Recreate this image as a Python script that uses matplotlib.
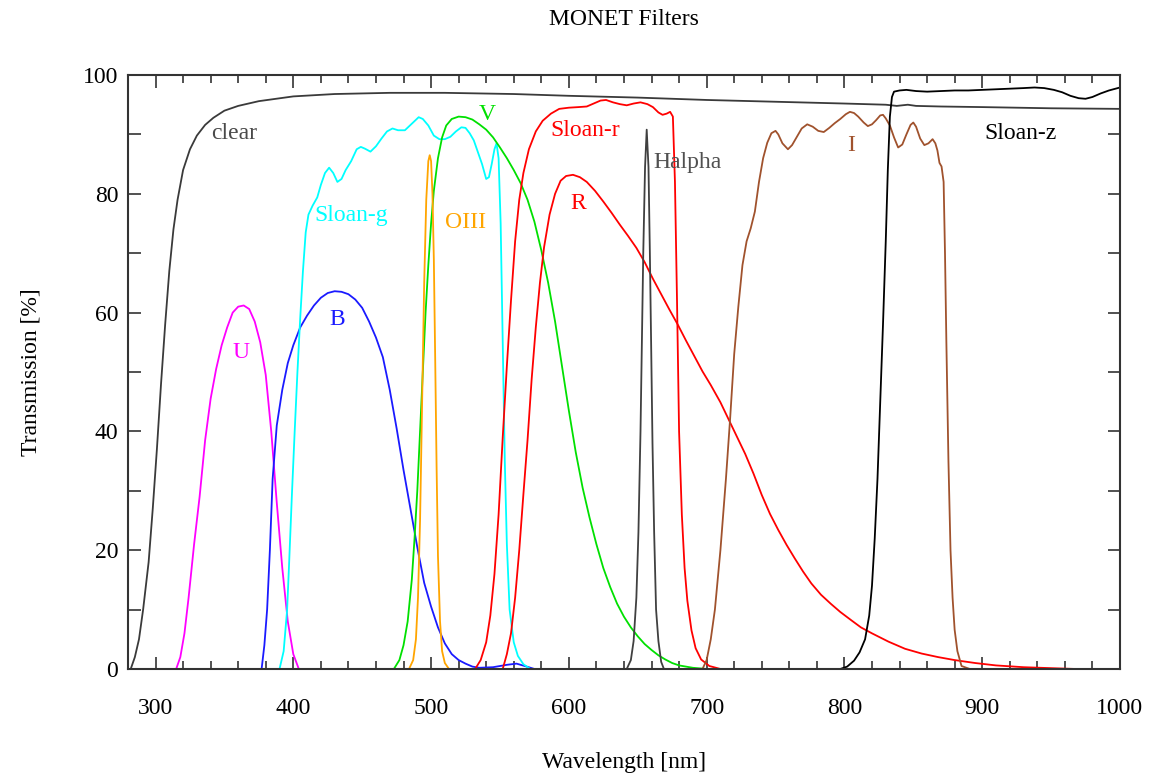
import numpy as np
import matplotlib.pyplot as plt
from matplotlib.ticker import MultipleLocator

plt.rcParams['font.family'] = ['Liberation Serif', 'DejaVu Serif']

# transmission curves (wavelength nm, transmission %)
clear_wl = [282, 285, 288, 291, 295, 298, 301, 304, 307, 310, 313, 316, 320, 325, 330, 336, 342, 350, 360, 375, 400,
            430, 470, 510, 560, 600, 650, 700, 750, 800, 830, 838, 846, 852, 870, 900, 950, 1000]
clear_t = [0, 2, 5, 10, 18, 27, 37, 48, 58, 67, 74, 79, 84, 87.5, 89.8, 91.6, 92.8, 94, 94.8, 95.6, 96.4,
           96.8, 97.0, 97.0, 96.8, 96.5, 96.2, 95.8, 95.5, 95.2, 95.0, 94.8, 95.0, 94.8, 94.7, 94.6, 94.4, 94.3]

u_wl = [315, 318, 321, 324, 328, 332, 336, 340, 344, 348, 352, 356, 360, 364, 368, 372, 376, 380, 384, 388, 392, 396, 400, 404]
u_t = [0, 2, 6, 12, 21, 29, 38.5, 45.5, 50.5, 54.5, 57.5, 60, 61, 61.2, 60.6, 58.5, 55, 49.5, 40, 28, 17, 8, 2.5, 0]

b_wl = [377, 379, 381, 383, 385, 388, 392, 396, 400, 405, 410, 415, 420, 425, 430, 435, 440, 445, 450, 455, 460,
        465, 470, 475, 480, 485, 490, 495, 500, 505, 510, 515, 520, 525, 530, 535, 545, 555, 562, 568, 575]
b_t = [0, 4, 10, 20, 32, 41, 47, 51.5, 54.5, 57.5, 59.5, 61.2, 62.5, 63.3, 63.6, 63.5, 63.1, 62.2, 60.8, 58.5, 55.8,
       52.5, 47, 40.5, 33.5, 27, 20.5, 14.5, 10.5, 7, 4.3, 2.5, 1.5, 0.9, 0.4, 0.2, 0.3, 0.7, 0.9, 0.5, 0]

g_wl = [390, 393, 395.5, 397, 399, 401, 403, 405, 407, 409, 411, 414, 417.4, 420, 423, 426, 429, 432, 435, 438,
        442, 446, 449, 452, 456, 460, 464, 468, 472, 476, 481, 486, 491, 494, 498, 502, 506, 510, 514, 518,
        522, 525, 528, 531, 534, 537, 540, 542, 544, 546, 547.5, 549, 550.5, 552, 553.5, 555, 557, 560, 563, 567, 572]
g_t = [0, 3, 9.9, 18, 29.4, 40, 50, 59, 67, 73.5, 76.5, 78, 79.4, 81.5, 83.5, 84.4, 83.5, 82, 82.5, 84,
       85.5, 87.5, 87.9, 87.6, 87.1, 88, 89.3, 90.5, 91, 90.7, 90.7, 91.8, 92.9, 92.6, 91.5, 89.8, 89.2, 89.2, 89.6, 90.5,
       91.2, 91.1, 90.2, 89, 87, 85, 82.5, 82.8, 85, 87.5, 88.5, 86, 75, 55, 35, 21, 10, 4.5, 2.2, 0.8, 0]

v_wl = [473, 477, 480, 483, 486, 488, 490, 492, 494, 496, 498, 500, 502, 505, 508, 511, 515, 520, 525, 530,
        535, 540, 545, 550, 555, 560, 565, 570, 575, 580, 585, 590, 595, 600, 605, 610, 615, 620, 625, 630,
        635, 640, 645, 650, 655, 660, 665, 670, 675, 680, 690, 700]
v_t = [0, 1.5, 4, 8, 15, 22, 30, 40, 50, 60, 68, 75, 80.5, 86, 89.5, 91.5, 92.6, 93, 92.9, 92.5,
       91.7, 90.8, 89.5, 87.8, 86, 84, 81.8, 79, 75.3, 70.5, 65, 58.5, 51, 43.5, 36.5, 30.5, 25.5, 21, 17, 13.8,
       11, 8.8, 7, 5.5, 4.2, 3.2, 2.3, 1.6, 1.0, 0.6, 0.2, 0]

o3_wl = [484, 487, 489, 490.5, 492, 493.5, 495, 496.5, 498, 499, 500, 501, 502, 503, 504, 505, 506.5, 508, 510, 513]
o3_t = [0, 1.5, 5, 12, 25, 45, 65, 79, 85.5, 86.5, 85.5, 80, 69, 52, 34, 19, 8, 3, 1, 0]

r_sl_wl = [532, 536, 540, 543, 546, 549, 552, 555, 558, 561, 564, 567, 571, 576, 581, 587, 593, 600, 607, 613,
           618, 623, 627, 632, 637, 642, 647, 652, 657, 661, 665, 668, 671, 673.5, 675.5, 677, 678.5, 680, 682, 684,
           686, 689, 692, 696, 702, 710]
r_sl_t = [0, 1.5, 4.5, 9, 16, 26, 39, 51, 62, 72, 79, 83.5, 87.5, 90.5, 92.3, 93.5, 94.3, 94.5, 94.6, 94.7,
          95.2, 95.7, 95.8, 95.4, 95.1, 94.9, 95.2, 95.4, 95.1, 94.6, 93.7, 93.3, 93.5, 93.8, 93, 82, 62, 40, 26, 17,
          11.5, 6.5, 3.5, 1.6, 0.5, 0]

r_wl = [552, 555, 558, 561, 564, 567, 570, 573, 576, 579, 582, 586, 590, 594, 598, 603, 608, 613, 619, 625,
        631, 637, 643, 649, 655, 661, 667, 673, 679, 685, 691, 697, 703, 710, 716, 722, 728, 734, 740, 746,
        752, 758, 764, 770, 776, 783, 790, 797, 805, 812, 820, 832, 844, 856, 868, 880, 895, 910, 930, 955, 968, 1000]
r_t = [0, 2.5, 6, 12, 20, 29.4, 38.5, 48.8, 57.5, 65, 71, 76.5, 80, 82.2, 83, 83.2, 82.8, 82, 80.5, 78.7,
       76.8, 74.8, 72.9, 70.9, 68.5, 65.7, 63.1, 60.5, 58, 55.3, 52.7, 50.1, 47.8, 44.9, 42, 39.1, 36.2, 32.9, 29.3, 26.1,
       23.4, 20.9, 18.6, 16.4, 14.4, 12.5, 11, 9.6, 8.2, 7, 6, 4.6, 3.4, 2.6, 2.0, 1.5, 1.0, 0.6, 0.3, 0.1, 0, 0]

ha_wl = [642, 645, 647, 649, 650.5, 652, 653, 654, 655.3, 656.5, 657.8, 658.8, 659.7, 660.7, 661.9, 663.3, 665, 667, 669]
ha_t = [0, 1.5, 4.7, 12, 23, 40, 55, 70, 84.5, 90.8, 84.5, 70, 55, 38, 23, 10, 4.7, 1.2, 0]

i_wl = [697, 700, 703, 706, 710, 714, 717, 720, 723, 726, 729, 732, 735, 738, 741, 744, 747, 750, 752, 755,
        759, 762, 765, 769, 773, 777, 781, 785, 789, 793, 797, 801, 804, 807, 810, 814, 817, 820, 823, 826,
        828, 830, 833, 836, 839, 842, 845, 848, 850, 852, 855, 858, 861, 864, 866, 867.5, 869, 870.5, 872, 873,
        874, 875.5, 877, 878.5, 880, 882, 885, 891]
i_t = [0, 1.5, 5, 10, 20, 32, 42, 53, 61, 68, 72, 74.2, 77, 82, 86, 88.6, 90.2, 90.6, 90, 88.5,
       87.5, 88.2, 89.4, 91, 91.7, 91.3, 90.6, 90.4, 91.1, 91.9, 92.6, 93.4, 93.8, 93.6, 93, 92, 91.4, 91.7, 92.4, 93.2,
       93.3, 92.7, 91.5, 89.5, 87.8, 88.3, 90, 91.6, 92, 91.3, 89.3, 88.2, 88.5, 89.2, 88.5, 87.3, 85.2, 84.6, 82, 70,
       55, 35, 20, 12, 6.6, 3, 0.5, 0]

z_wl = [797, 802, 807, 811, 815, 818, 820, 822, 824, 826, 828, 830, 831.5, 833, 834.5, 836, 840, 845, 852, 860,
        870, 880, 890, 900, 910, 920, 930, 938, 945, 952, 958, 964, 970, 975, 980, 986, 992, 1000]
z_t = [0, 0.4, 1.4, 2.8, 5, 9, 14, 22, 32, 45, 58, 72, 84, 93, 96.3, 97.2, 97.4, 97.5, 97.3, 97.2,
       97.3, 97.4, 97.4, 97.5, 97.6, 97.7, 97.8, 97.9, 97.8, 97.5, 97.1, 96.5, 96.1, 96.0, 96.3, 96.9, 97.4, 97.9]

curves = [
    (clear_wl, clear_t, '#3a3a3a'),
    (u_wl, u_t, '#ff00ff'),
    (b_wl, b_t, '#1a1aff'),
    (g_wl, g_t, '#00ffff'),
    (v_wl, v_t, '#00e000'),
    (o3_wl, o3_t, '#ffa500'),
    (r_sl_wl, r_sl_t, '#ff0000'),
    (r_wl, r_t, '#ff0000'),
    (ha_wl, ha_t, '#404040'),
    (i_wl, i_t, '#a0522d'),
    (z_wl, z_t, '#000000'),
]

# label text, position, colour
labels = [
    ('clear', 357, 90.2, '#4a4a4a'),
    ('U', 362, 53.2, '#ff00ff'),
    ('B', 431.5, 58.8, '#1a1aff'),
    ('Sloan-g', 442, 76.4, '#00ffff'),
    ('OIII', 525, 75.1, '#ffa500'),
    ('V', 540.6, 93.3, '#00e000'),
    ('Sloan-r', 612, 90.6, '#ff0000'),
    ('R', 606.7, 78.3, '#ff0000'),
    ('Halpha', 686, 85.2, '#505050'),
    ('I', 804.6, 88.2, '#a0522d'),
    ('Sloan-z', 928, 90.2, '#000000'),
]

fig = plt.figure(figsize=(11.57, 7.75), dpi=100)
ax = fig.add_axes([0.1106, 0.1368, 0.8574, 0.7664])

for wl, t, c in curves:
    ax.plot(wl, t, color=c, lw=1.3)

for txt, x, y, c in labels:
    ax.text(x, y, txt, color=c, fontsize=17, ha='center', va='center')

ax.set_xlim(280, 1000)
ax.set_ylim(0, 100)
ax.xaxis.set_major_locator(MultipleLocator(100))
ax.xaxis.set_minor_locator(MultipleLocator(20))
ax.yaxis.set_major_locator(MultipleLocator(20))
ax.yaxis.set_minor_locator(MultipleLocator(10))
ax.tick_params(which='both', direction='in', top=True, right=True, labelsize=17, color='#333333')
ax.tick_params(axis='x', which='major', length=9, width=1.2, pad=21)
ax.tick_params(axis='x', which='minor', length=6, width=1.2)
ax.tick_params(axis='y', which='both', length=9, width=1.2, pad=7)
for s in ax.spines.values():
    s.set_linewidth(1.5)
    s.set_color('#333333')

ax.set_title('MONET Filters', fontsize=17, pad=36)
ax.set_xlabel('Wavelength [nm]', fontsize=17, labelpad=24)
ax.set_ylabel('Transmission [%]', fontsize=17, labelpad=30)

fig.savefig('out.png', dpi=100)
